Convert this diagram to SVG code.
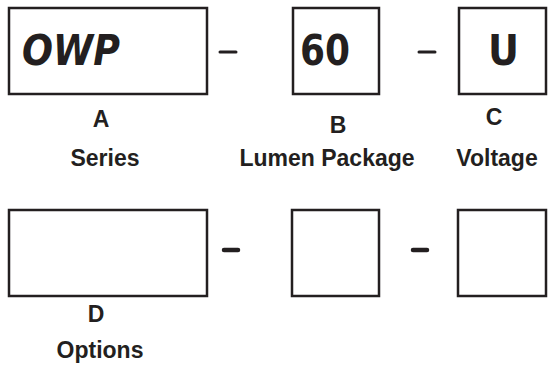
<svg xmlns="http://www.w3.org/2000/svg" width="549" height="368" viewBox="0 0 549 368">
<style>
.box{fill:#fff;stroke:#231f20;stroke-width:2.5}
.dash{stroke:#231f20;stroke-width:3;stroke-linecap:round}
.dash2{stroke:#231f20;stroke-width:4.5;stroke-linecap:round}
.big{font-family:"DejaVu Sans",sans-serif;font-weight:bold;font-size:42px;fill:#231f20}
.lbl{font-family:"Liberation Sans",Arial,sans-serif;font-weight:bold;font-size:23px;fill:#231f20;text-anchor:middle}
</style>
<rect width="549" height="368" fill="#fff"/>
<g id="A">
<rect class="box" x="9" y="8" width="198" height="86"/>
<text class="big" x="22" y="65" font-style="italic" textLength="98" lengthAdjust="spacingAndGlyphs">OWP</text>
<text class="lbl" x="101" y="127">A</text>
<text class="lbl" x="105" y="166">Series</text>
</g>
<g id="B">
<rect class="box" x="293" y="8" width="86" height="86"/>
<text class="big" x="300" y="65" textLength="50" lengthAdjust="spacingAndGlyphs">60</text>
<text class="lbl" x="338" y="133">B</text>
<text class="lbl" x="327" y="166">Lumen Package</text>
</g>
<g id="C">
<rect class="box" x="459" y="8" width="87" height="86"/>
<text class="big" x="488" y="65" textLength="31" lengthAdjust="spacingAndGlyphs">U</text>
<text class="lbl" x="494" y="125">C</text>
<text class="lbl" x="497" y="166">Voltage</text>
</g>
<g id="D">
<rect class="box" x="9" y="210" width="198" height="86"/>
<text class="lbl" x="96" y="322">D</text>
<text class="lbl" x="100" y="358">Options</text>
</g>
<g id="E">
<rect class="box" x="292" y="210" width="87" height="86"/>
</g>
<g id="F">
<rect class="box" x="458" y="210" width="88" height="86"/>
</g>
<g id="connectors">
<line class="dash" x1="220" y1="52" x2="236" y2="52"/>
<line class="dash" x1="419" y1="52" x2="435" y2="52"/>
<line class="dash2" x1="224" y1="250" x2="238" y2="250"/>
<line class="dash2" x1="413" y1="250" x2="427" y2="250"/>
</g>
</svg>
